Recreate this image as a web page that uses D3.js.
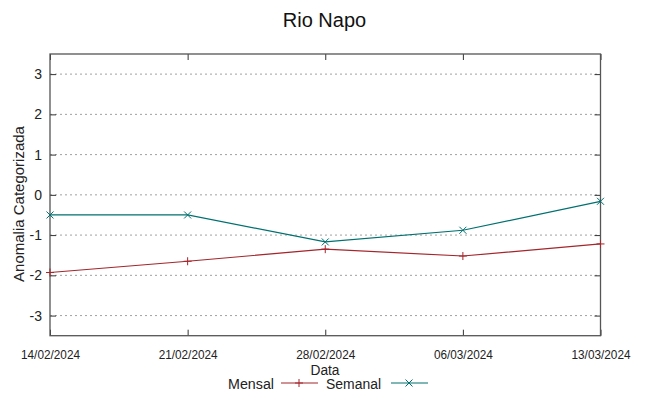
<!DOCTYPE html>
<html><head><meta charset="utf-8">
<script src="https://cdn.jsdelivr.net/npm/d3@7"></script>
<style>body{margin:0;background:#fff}svg{display:block}</style>
</head><body><svg id="c" width="649" height="396"></svg>
<script>
const dates = ["14/02/2024","21/02/2024","28/02/2024","06/03/2024","13/03/2024"];
const mensal = [-1.93,-1.65,-1.35,-1.52,-1.22];
const semanal = [-0.5,-0.5,-1.17,-0.88,-0.16];
const yTicks = [-3,-2,-1,0,1,2,3];

const svg = d3.select("#c");
const L=50,R=600.5,T=54,B=335.7;
const x = d3.scalePoint().domain(dates).range([L,R]);
const y = d3.scaleLinear().domain([-3.5,3.5]).range([B,T]);
const font = "Liberation Sans, Arial, sans-serif";

svg.append("g").selectAll("line").data(yTicks).join("line")
  .attr("x1",L).attr("x2",R).attr("y1",d=>y(d)).attr("y2",d=>y(d))
  .attr("stroke","#a0a0a0").attr("stroke-width",1).attr("stroke-dasharray","2,3");

const yl = svg.append("g").attr("transform",`translate(${L},0)`)
  .call(d3.axisLeft(y).tickValues(yTicks).tickSize(-6).tickPadding(8).tickFormat(d=>String(d)));
const yr = svg.append("g").attr("transform",`translate(${R},0)`)
  .call(d3.axisRight(y).tickValues(yTicks).tickSize(-6).tickFormat(""));
const xb = svg.append("g").attr("transform",`translate(0,${B})`)
  .call(d3.axisBottom(x).tickSize(-6).tickPadding(15));
const xt = svg.append("g").attr("transform",`translate(0,${T})`)
  .call(d3.axisTop(x).tickSize(-6).tickFormat(""));
[yl,yr,xb,xt].forEach(g=>{g.select(".domain").remove();g.selectAll(".tick line").attr("stroke","#333");});
yl.selectAll("text").attr("font-family",font).attr("font-size",14).attr("fill","#222");
xb.selectAll("text").attr("font-family",font).attr("font-size",12).attr("fill","#222").attr("dy","0.71em")
  .attr("textLength",59).attr("lengthAdjust","spacingAndGlyphs");

svg.append("rect").attr("x",L).attr("y",T).attr("width",R-L).attr("height",B-T)
  .attr("fill","none").attr("stroke","#555").attr("stroke-width",1.3);

const line = d3.line().x((d,i)=>x(dates[i])).y(d=>y(d));
const mc="#a3262c", sc="#007070";
svg.append("path").datum(mensal).attr("d",line).attr("fill","none").attr("stroke",mc).attr("stroke-width",1.2);
svg.append("path").datum(semanal).attr("d",line).attr("fill","none").attr("stroke",sc).attr("stroke-width",1.2);
const plus = (g,cx,cy,c)=>{g.append("path").attr("d",`M${cx-4},${cy}H${cx+4}M${cx},${cy-4}V${cy+4}`).attr("stroke",c).attr("stroke-width",1);};
const cross = (g,cx,cy,c)=>{g.append("path").attr("d",`M${cx-3.5},${cy-3.5}L${cx+3.5},${cy+3.5}M${cx-3.5},${cy+3.5}L${cx+3.5},${cy-3.5}`).attr("stroke",c).attr("stroke-width",1);};
const pts = svg.append("g");
mensal.forEach((v,i)=>plus(pts,x(dates[i]),y(v),mc));
semanal.forEach((v,i)=>cross(pts,x(dates[i]),y(v),sc));

svg.append("text").attr("x",324.5).attr("y",27).attr("text-anchor","middle")
  .attr("font-family",font).attr("font-size",20).attr("fill","#111").text("Rio Napo");
svg.append("text").attr("transform","translate(24,204) rotate(-90)").attr("text-anchor","middle")
  .attr("font-family",font).attr("font-size",15).attr("fill","#222").text("Anomalia Categorizada");
svg.append("text").attr("x",325).attr("y",375).attr("text-anchor","middle")
  .attr("font-family",font).attr("font-size",14).attr("fill","#222")
  .attr("textLength",29).attr("lengthAdjust","spacingAndGlyphs").text("Data");

const lg = svg.append("g").attr("font-family",font).attr("font-size",14).attr("fill","#222");
lg.append("text").attr("x",274).attr("y",389).attr("text-anchor","end")
  .attr("textLength",46).attr("lengthAdjust","spacingAndGlyphs").text("Mensal");
lg.append("line").attr("x1",281).attr("x2",318).attr("y1",383).attr("y2",383).attr("stroke",mc).attr("stroke-width",1.2);
plus(lg,299,383,mc);
lg.append("text").attr("x",326).attr("y",389)
  .attr("textLength",55).attr("lengthAdjust","spacingAndGlyphs").text("Semanal");
lg.append("line").attr("x1",391).attr("x2",428).attr("y1",383).attr("y2",383).attr("stroke",sc).attr("stroke-width",1.2);
cross(lg,409,383,sc);
</script></body></html>
